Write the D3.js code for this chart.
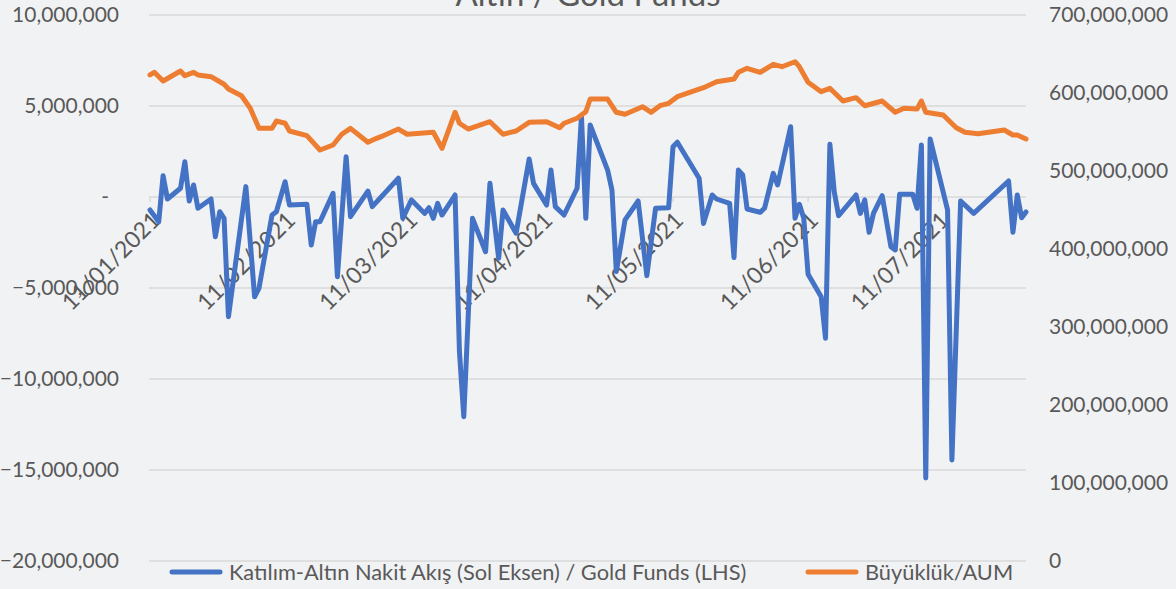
<!DOCTYPE html>
<html>
<head>
  <script src="https://cdn.jsdelivr.net/npm/d3@7"></script>
  <style>
    body { margin: 0; background: #f1f2f4; font-family: Lato, sans-serif; }
    svg { display: block; }
  </style>
</head>
<body>
<svg width="1176" height="589"></svg>
<script>
  var flowDates = ["2021-01-11","2021-01-13","2021-01-14","2021-01-15","2021-01-18","2021-01-19","2021-01-20","2021-01-21","2021-01-22","2021-01-25",
    "2021-01-26","2021-01-27","2021-01-28","2021-01-29","2021-02-02","2021-02-04","2021-02-05","2021-02-08","2021-02-09","2021-02-11",
    "2021-02-12","2021-02-16","2021-02-17","2021-02-18","2021-02-19","2021-02-22","2021-02-23","2021-02-25","2021-02-26","2021-03-02",
    "2021-03-03","2021-03-09","2021-03-10","2021-03-12","2021-03-15","2021-03-16","2021-03-17","2021-03-18","2021-03-19","2021-03-22",
    "2021-03-23","2021-03-24","2021-03-26","2021-03-29","2021-03-30","2021-04-01","2021-04-02","2021-04-05","2021-04-08","2021-04-09",
    "2021-04-12","2021-04-13","2021-04-14","2021-04-16","2021-04-19","2021-04-20","2021-04-21","2021-04-22","2021-04-26","2021-04-27",
    "2021-04-28","2021-04-30","2021-05-03","2021-05-05","2021-05-07","2021-05-10","2021-05-11","2021-05-12","2021-05-17","2021-05-18",
    "2021-05-20","2021-05-21","2021-05-24","2021-05-25","2021-05-26","2021-05-27","2021-05-28","2021-05-31","2021-06-01","2021-06-03",
    "2021-06-04","2021-06-07","2021-06-08","2021-06-09","2021-06-10","2021-06-11","2021-06-14","2021-06-15","2021-06-16","2021-06-17",
    "2021-06-18","2021-06-22","2021-06-23","2021-06-24","2021-06-25","2021-06-26","2021-06-28","2021-06-30","2021-07-01","2021-07-02",
    "2021-07-05","2021-07-06","2021-07-07","2021-07-08","2021-07-09","2021-07-13","2021-07-14","2021-07-16","2021-07-19","2021-07-27",
    "2021-07-28","2021-07-29","2021-07-30","2021-07-31"];
  var flowValues = [-710000,-1360000,1170000,-110000,480000,1940000,-220000,660000,-620000,-110000,
    -2180000,-810000,-1170000,-6580000,570000,-5480000,-5020000,-990000,-810000,840000,
    -440000,-400000,-2640000,-1360000,-1360000,200000,-4380000,2210000,-1080000,320000,
    -530000,1030000,-1170000,-160000,-900000,-590000,-1170000,-350000,-990000,110000,
    -8500000,-12070000,-1170000,-3010000,750000,-3370000,-710000,-1990000,2090000,750000,
    -440000,1480000,-530000,-990000,480000,4410000,-1170000,3960000,1480000,380000,
    -4100000,-1260000,-220000,-4320000,-620000,-590000,2760000,3010000,1030000,-1450000,
    110000,-110000,-350000,-3330000,1480000,1210000,-660000,-840000,-620000,1300000,
    660000,3860000,-1170000,-400000,-1170000,-4250000,-5480000,-7760000,2900000,290000,
    -1030000,110000,-900000,-160000,-1940000,-900000,70000,-2730000,-2910000,150000,
    150000,-620000,2860000,-15440000,3190000,-710000,-14450000,-220000,-900000,880000,
    -1940000,110000,-1140000,-820000];

  var aumDates = ["2021-01-11","2021-01-12","2021-01-14","2021-01-18","2021-01-19","2021-01-21","2021-01-22","2021-01-25","2021-01-28","2021-01-29",
    "2021-02-01","2021-02-03","2021-02-05","2021-02-08","2021-02-09","2021-02-11","2021-02-12","2021-02-16","2021-02-19","2021-02-22",
    "2021-02-24","2021-02-26","2021-03-02","2021-03-04","2021-03-05","2021-03-09","2021-03-11","2021-03-17","2021-03-19","2021-03-22",
    "2021-03-23","2021-03-25","2021-03-30","2021-04-02","2021-04-05","2021-04-08","2021-04-12","2021-04-15","2021-04-16","2021-04-19",
    "2021-04-21","2021-04-22","2021-04-26","2021-04-28","2021-04-30","2021-05-04","2021-05-06","2021-05-08","2021-05-10","2021-05-12",
    "2021-05-18","2021-05-21","2021-05-25","2021-05-26","2021-05-28","2021-05-31","2021-06-03","2021-06-05","2021-06-08","2021-06-09",
    "2021-06-11","2021-06-14","2021-06-16","2021-06-19","2021-06-22","2021-06-24","2021-06-28","2021-07-01","2021-07-03","2021-07-06",
    "2021-07-07","2021-07-08","2021-07-12","2021-07-15","2021-07-17","2021-07-20","2021-07-26","2021-07-28","2021-07-29","2021-07-31"];
  var aumValues = [623.1,626.5,615.4,628.2,622.2,626.5,623.1,620.9,611.2,605.1,
    596.5,580.4,554.7,554.7,564.1,561.2,551.3,545.3,526.9,533.3,
    547.1,554.7,536.8,541.9,544.0,553.8,547.1,549.6,529.1,575.3,
    561.2,553.8,563.2,547.1,551.3,562.4,563.2,555.5,561.2,567.6,
    576.0,592.3,592.3,575.3,572.7,582.4,575.3,583.7,586.8,595.3,
    606.8,614.5,617.9,626.5,631.7,626.5,636.8,633.7,640.1,633.7,
    613.7,601.7,606.0,589.7,594.0,583.7,589.7,575.3,580.4,579.5,
    589.7,575.3,571.8,555.5,549.6,547.8,552.6,546.2,546.2,541.0].map(function (v) { return v * 1e6; });

  var tickDates = ["2021-01-11","2021-02-11","2021-03-11","2021-04-11","2021-05-11","2021-06-11","2021-07-11"];
  var leftTicks = [-20000000,-15000000,-10000000,-5000000,0,5000000,10000000];
  var rightTicks = [0,100000000,200000000,300000000,400000000,500000000,600000000,700000000];
  var seriesNames = ["Katılım-Altın Nakit Akış (Sol Eksen) / Gold Funds (LHS)", "Büyüklük/AUM"];
  var title = "Altın / Gold Funds";

  var parse = d3.utcParse("%Y-%m-%d");
  var flow = flowDates.map(function (d, i) { return { date: parse(d), v: flowValues[i] }; });
  var aum = aumDates.map(function (d, i) { return { date: parse(d), v: aumValues[i] }; });

  var svg = d3.select("svg"),
    plotLeft = 150, plotRight = 1026, plotTop = 15, plotBottom = 561,
    textColor = "#595959", gridColor = "#d9d9d9";

  var x = d3.scaleUtc().domain([parse("2021-01-11"), parse("2021-07-31")]).range([plotLeft, plotRight]);
  var yL = d3.scaleLinear().domain([-20000000, 10000000]).range([plotBottom, plotTop]);
  var yR = d3.scaleLinear().domain([0, 700000000]).range([plotBottom, plotTop]);
  var fmt = d3.format(",");

  // gridlines
  svg.append("g").selectAll("line").data(leftTicks).enter().append("line")
    .attr("x1", plotLeft - 1).attr("x2", plotRight)
    .attr("y1", function (d) { return yL(d); }).attr("y2", function (d) { return yL(d); })
    .attr("stroke", gridColor).attr("stroke-width", 1.5);

  // left axis labels
  svg.append("g").selectAll("text").data(leftTicks).enter().append("text")
    .attr("x", function (d) { return d === 0 ? 109 : 119; })
    .attr("y", function (d) { return yL(d); })
    .attr("dy", "0.35em").attr("text-anchor", "end")
    .attr("fill", textColor).attr("font-size", 21)
    .text(function (d) { return d === 0 ? "-" : fmt(d); });

  // right axis labels
  svg.append("g").selectAll("text").data(rightTicks).enter().append("text")
    .attr("x", 1049)
    .attr("y", function (d) { return yR(d); })
    .attr("dy", "0.35em").attr("text-anchor", "start")
    .attr("fill", textColor).attr("font-size", 21)
    .text(function (d) { return fmt(d); });

  // x ticks on the zero line
  var xt = svg.append("g");
  xt.selectAll("line").data(tickDates).enter().append("line")
    .attr("x1", function (d) { return x(parse(d)); }).attr("x2", function (d) { return x(parse(d)); })
    .attr("y1", yL(0)).attr("y2", yL(0) + 5)
    .attr("stroke", gridColor).attr("stroke-width", 1.5);
  xt.selectAll("text").data(tickDates).enter().append("text")
    .attr("transform", function (d) { return "translate(" + (x(parse(d)) + 6) + "," + (yL(0) + 19) + ") rotate(-45)"; })
    .attr("dy", "0.35em").attr("text-anchor", "end")
    .attr("fill", textColor).attr("font-size", 23)
    .text(function (d) { return d3.utcFormat("%d/%m/%Y")(parse(d)); });

  var lineL = d3.line().x(function (d) { return x(d.date); }).y(function (d) { return yL(d.v); });
  var lineR = d3.line().x(function (d) { return x(d.date); }).y(function (d) { return yR(d.v); });

  svg.append("path").datum(flow).attr("d", lineL)
    .attr("fill", "none").attr("stroke", "#4472c4").attr("stroke-width", 5)
    .attr("stroke-linejoin", "round").attr("stroke-linecap", "round");
  svg.append("path").datum(aum).attr("d", lineR)
    .attr("fill", "none").attr("stroke", "#ed7d31").attr("stroke-width", 5)
    .attr("stroke-linejoin", "round").attr("stroke-linecap", "round");

  // title (cut at the top edge)
  svg.append("text").attr("x", (plotLeft + plotRight) / 2).attr("y", 6)
    .attr("text-anchor", "middle").attr("fill", textColor).attr("font-size", 33)
    .text(title);

  // legend
  var legend = [{ name: seriesNames[0], color: "#4472c4", x: 170 }, { name: seriesNames[1], color: "#ed7d31", x: 806 }];
  var lg = svg.append("g").selectAll("g").data(legend).enter().append("g")
    .attr("transform", function (d) { return "translate(" + d.x + ",572)"; });
  lg.append("line").attr("x1", 2).attr("x2", 50).attr("y1", 0).attr("y2", 0)
    .attr("stroke", function (d) { return d.color; }).attr("stroke-width", 5).attr("stroke-linecap", "round");
  lg.append("text").attr("x", 59).attr("dy", "0.35em")
    .attr("fill", textColor).attr("font-size", 21.8)
    .text(function (d) { return d.name; });
</script>
</body>
</html>
